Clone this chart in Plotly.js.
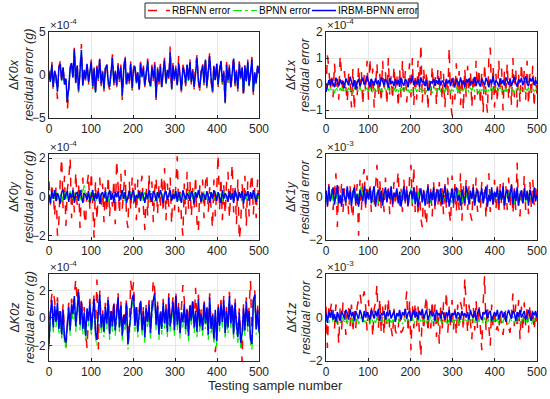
<!DOCTYPE html>
<html><head><meta charset="utf-8">
<script src="https://cdn.plot.ly/plotly-3.0.1.min.js"></script>
<style>html,body{margin:0;padding:0;background:#fff}#chart{width:550px;height:399px}</style>
</head><body><div id="chart"></div>
<script>
// ---------- data (values in displayed axis units: x10^-4 or x10^-3), 150 samples over 0..500 ----------
const seriesNames = ["RBFNN error", "BPNN error", "IRBM-BPNN error"];
const panelLabels = ["K0x", "K1x", "K0y", "K1y", "K0z", "K1z"];
const panelUnits = ["(g)", "", "(g)", "", "(g)", ""];
const panelExponents = ["-4", "-4", "-4", "-3", "-4", "-3"];
const xTicks = [0, 100, 200, 300, 400, 500];

const k0x_rbf = [0.5,-1.0,1.6,-1.7,0.7,-0.4,-2.8,1.0,1.6,-0.9, 1.1,-1.4,-0.6,-4.1,-1.8,0.9,1.7,-0.5,3.2,-1.2, 1.4,-2.1,0.6,3.6,-1.5,0.8,-0.8,1.6,-1.1,0.4, 1.8,-1.6,0.9,-2.3,1.1,-0.7,2.1,-1.3,0.5,-1.9, 1.0,1.5,-1.0,-1.7,0.8,2.4,-1.2,0.6,-1.5,1.4, -0.8,1.2,-2.9,0.8,2.4,-1.4,0.4,-1.0,1.6,-1.8, 0.9,1.3,-1.2,0.5,-2.0,1.7,-0.4,1.1,-1.5,0.7, 1.9,-0.9,-1.6,1.2,-0.7,1.5,-2.9,0.9,-1.1,1.3, -1.7,0.6,2.0,-1.2,0.8,-0.6,3.3,-1.9,1.4,-0.8, 1.1,-1.5,2.2,-0.4,-2.1,1.2,0.5,-1.3,1.5,-0.9, 1.8,-1.1,0.7,-1.7,1.2,2.3,-1.0,-1.8,0.6,1.4, -1.2,2.1,-1.6,0.8,2.6,-0.7,-2.3,1.3,-0.9,1.6, -1.4,0.7,1.9,-1.1,0.5,-3.4,1.5,-0.9,1.2,-1.7, 0.9,2.2,-1.3,0.6,-1.9,1.6,-0.5,1.1,-2.6,1.3, -1.0,1.8,-1.5,0.8,2.1,-2.3,0.5,-1.2,1.4,0.4];
const k0x_bp = [0.2,-0.9,1.1,-1.5,0.4,-0.3,-2.0,0.7,1.2,-0.7, 0.8,-1.2,-0.5,-3.2,-1.6,0.6,1.3,-0.4,2.8,-1.0, 1.0,-1.9,0.3,2.7,-1.3,0.5,-0.6,1.2,-0.9,0.1, 1.4,-1.4,0.6,-2.1,0.8,-0.5,1.7,-1.1,0.2,-1.7, 0.7,1.1,-0.8,-1.5,0.4,1.9,-1.0,0.3,-1.3,1.0, -0.6,0.8,-2.5,0.5,1.8,-1.2,0.1,-0.8,1.2,-1.6, 0.5,0.9,-1.0,0.2,-1.8,1.3,-0.3,0.7,-1.3,0.4, 1.5,-0.7,-1.4,0.8,-0.5,1.1,-2.7,0.6,-0.9,0.9, -1.5,0.3,1.6,-1.0,0.5,-0.4,2.5,-1.7,1.0,-0.6, 0.7,-1.3,1.3,-0.3,-1.9,0.8,0.2,-1.1,1.1,-0.7, 1.4,-0.9,0.4,-1.5,0.8,1.9,-0.8,-1.6,0.3,1.0, -1.0,1.7,-1.4,0.5,2.1,-0.5,-2.0,0.9,-0.7,1.2, -1.2,0.4,1.5,-0.9,0.2,-3.3,1.1,-0.7,0.8,-1.5, 0.6,1.8,-1.1,0.3,-1.7,1.2,-0.4,0.7,-2.2,0.9, -0.8,1.4,-1.3,0.5,1.7,-2.1,0.2,-1.0,1.0,0.1];
const k0x_irbm = [0.3,-0.8,1.2,-1.4,0.5,-0.2,-1.9,0.8,1.3,-0.6, 0.9,-1.1,-0.4,-3.1,-1.5,0.7,1.4,-0.3,3.0,-0.9, 1.1,-1.8,0.4,2.9,-1.2,0.6,-0.5,1.3,-0.8,0.2, 1.5,-1.3,0.7,-2.0,0.9,-0.4,1.8,-1.0,0.3,-1.6, 0.8,1.2,-0.7,-1.4,0.5,2.0,-0.9,0.4,-1.2,1.1, -0.5,0.9,-2.4,0.6,1.9,-1.1,0.2,-0.7,1.3,-1.5, 0.6,1.0,-0.9,0.3,-1.7,1.4,-0.2,0.8,-1.2,0.5, 1.6,-0.6,-1.3,0.9,-0.4,1.2,-2.6,0.7,-0.8,1.0, -1.4,0.4,1.7,-0.9,0.6,-0.3,2.6,-1.6,1.1,-0.5, 0.8,-1.2,1.4,-0.2,-1.8,0.9,0.3,-1.0,1.2,-0.6, 1.5,-0.8,0.5,-1.4,0.9,2.0,-0.7,-1.5,0.4,1.1, -0.9,1.8,-1.3,0.6,2.2,-0.4,-1.9,1.0,-0.6,1.3, -1.1,0.5,1.6,-0.8,0.3,-3.2,1.2,-0.6,0.9,-1.4, 0.7,1.9,-1.0,0.4,-1.6,1.3,-0.3,0.8,-2.1,1.0, -0.7,1.5,-1.2,0.6,1.8,-2.0,0.3,-0.9,1.1,0.2];

const k1x_rbf = [-0.3,1.1,0.6,-0.2,0.4,-0.5,0.8,-0.1,0.3,-0.6, 1.1,0.2,-0.4,0.5,-0.3,-0.7,0.4,0.1,-0.9,0.6, -1.0,0.3,-0.5,0.7,-0.2,0.5,-0.8,0.4,-0.3,0.9, -0.6,1.0,-0.4,0.6,-0.9,0.2,0.8,-0.5,0.4,-0.7, 0.9,-0.3,0.5,-0.8,1.0,-0.4,0.3,-0.6,0.7,-0.2, 0.4,-0.9,0.6,-0.5,0.9,-0.3,0.5,-0.7,0.2,0.8, -0.5,1.0,-0.8,0.4,-0.6,0.9,-0.3,1.55,-0.7,0.6, -0.4,0.5,-1.0,0.3,-0.5,0.7,-0.2,0.4,-0.8,0.6, -0.3,0.5,-0.6,0.4,-0.9,0.3,-0.5,1.4,-0.7,-1.2, 0.4,-0.6,0.8,-0.4,0.5,-0.8,0.3,-1.0,0.6,-0.5, 0.7,-0.3,0.5,-0.9,0.4,-0.6,0.9,-0.4,0.6,-0.8, 0.5,-1.1,0.8,-0.5,-1.1,1.0,1.4,-0.6,0.7,-0.9, 0.4,-0.7,0.9,-0.3,0.6,-1.0,0.5,-0.4,0.8,-0.6, 0.3,-0.8,1.0,-0.5,0.6,-0.9,0.4,-0.7,0.8,-0.3, 0.5,-0.6,0.9,-0.8,0.4,-0.5,0.7,-0.9,0.3,-0.4];
const k1x_bp = [-0.3,-0.15,-0.25,-0.1,-0.28,-0.2,-0.35,-0.12,-0.22,-0.3, -0.15,-0.26,-0.1,-0.32,-0.2,-0.24,-0.14,-0.3,-0.18,-0.35, -0.12,-0.25,-0.2,-0.3,-0.1,-0.27,-0.16,-0.33,-0.2,-0.14, -0.28,-0.1,-0.24,-0.3,-0.15,-0.22,-0.34,-0.12,-0.26,-0.18, -0.3,-0.14,-0.2,-0.27,-0.1,-0.32,-0.18,-0.24,-0.13,-0.29, -0.2,-0.34,-0.12,-0.25,-0.18,-0.3,-0.1,-0.26,-0.21,-0.33, -0.15,-0.28,-0.2,-0.12,-0.3,-0.17,-0.25,-0.1,-0.32,-0.22, -0.14,-0.3,-0.18,-0.26,-0.1,-0.34,-0.2,-0.15,-0.28,-0.22, -0.12,-0.3,-0.24,-0.16,-0.32,-0.1,-0.26,-0.2,-0.35,-0.14, -0.28,-0.18,-0.1,-0.3,-0.22,-0.15,-0.33,-0.2,-0.12,-0.27, -0.2,-0.32,-0.14,-0.25,-0.1,-0.3,-0.18,-0.24,-0.34,-0.15, -0.26,-0.12,-0.3,-0.2,-0.35,-0.16,-0.24,-0.1,-0.28,-0.2, -0.14,-0.3,-0.22,-0.1,-0.32,-0.18,-0.26,-0.15,-0.3,-0.2, -0.12,-0.28,-0.2,-0.34,-0.16,-0.24,-0.1,-0.3,-0.22,-0.15, -0.3,-0.18,-0.25,-0.12,-0.32,-0.2,-0.14,-0.28,-0.22,-0.18];
const k1x_irbm = [-0.3,-0.1,0.15,-0.05,0.2,0.02,-0.12,0.25,0.05,-0.08, 0.18,0.0,0.12,-0.15,0.22,0.06,-0.05,0.28,0.1,-0.1, 0.15,-0.2,0.05,0.2,-0.08,0.12,0.25,-0.02,0.1,0.3, 0.04,-0.12,0.2,0.08,-0.06,0.22,0.0,0.15,-0.1,0.26, 0.06,-0.04,0.18,0.1,-0.14,0.24,0.02,0.12,-0.08,0.2, 0.0,0.16,-0.1,0.25,0.05,-0.06,0.2,0.1,-0.12,0.22, 0.08,0.3,-0.04,0.14,0.02,0.2,-0.1,0.26,0.06,0.12, -0.08,0.18,-0.25,-0.15,0.1,0.04,0.2,-0.06,0.15,0.0, 0.24,-0.05,0.12,0.08,-0.12,0.2,0.02,0.16,-0.08,0.22, 0.05,-0.1,0.18,0.1,-0.04,0.26,0.0,0.14,-0.12,0.2, 0.06,0.22,-0.06,0.12,0.02,0.28,-0.08,0.16,0.04,-0.1, 0.2,0.08,-0.05,0.24,0.1,-0.12,0.18,0.02,0.3,-0.04, 0.14,0.06,-0.1,0.22,0.0,0.16,-0.06,0.26,0.08,-0.02, 0.2,-0.08,0.12,0.28,0.04,-0.1,0.18,0.06,0.24,-0.05, 0.15,0.3,0.02,-0.08,0.22,0.1,0.26,-0.04,0.16,0.0];

const k0y_rbf = [0.8,-0.4,0.5,0.2,-1.0,0.6,-2.0,-1.3,0.9,2.0, -0.6,1.1,-1.5,0.4,0.9,2.0,-1.1,0.5,-0.8,1.3, -0.5,0.7,-1.6,0.3,1.0,-0.9,-1.4,0.6,1.2,-0.7, 1.3,-0.5,-2.1,0.8,-1.2,0.4,1.0,-0.6,0.7,-1.3, 0.5,-0.8,1.1,-1.0,0.3,-0.5,0.9,-1.4,1.9,0.6, -0.9,1.2,-0.6,0.4,1.4,-1.1,-1.6,0.8,-0.7,1.0, -0.4,0.7,-1.2,0.9,-0.8,0.5,1.1,-0.6,-1.7,0.6, -1.0,1.2,-0.5,0.8,-1.3,0.4,1.0,-0.9,0.6,-0.6, 1.1,-0.8,1.5,-1.2,0.7,-0.5,1.0,-1.4,0.6,-0.7, 0.9,2.1,-0.8,0.5,-1.2,-2.0,0.7,-0.9,1.3,-0.6, 0.8,-1.0,0.5,-0.7,1.1,-1.3,-1.8,0.6,-0.5,0.9, -1.1,0.7,1.2,-0.8,0.5,-0.6,-1.6,0.9,-1.0,0.4, 2.2,-0.7,1.0,-1.2,0.6,-0.9,0.8,1.3,-1.1,0.5, 1.7,-0.8,0.6,-1.4,0.9,-2.2,-1.5,0.7,-0.6,1.1, -1.5,0.8,-1.0,0.6,1.2,-0.9,0.5,-1.1,0.9,-0.6];
const k0y_bp = [0.15,-0.2,0.25,0.05,-0.1,0.3,-0.15,0.1,0.2,-0.25, 0.05,0.25,-0.1,0.2,-0.2,0.3,0.0,-0.15,0.15,0.25, -0.1,0.2,0.05,-0.2,0.3,0.6,-0.05,0.15,-0.25,0.1, 0.25,-0.1,0.2,0.0,-0.2,0.3,0.1,-0.15,0.2,0.05, -0.1,0.25,-0.2,0.15,0.3,-0.05,0.1,-0.25,0.2,0.0, 0.3,-0.15,0.1,0.25,-0.2,0.05,0.2,-0.1,0.3,-0.05, 0.15,-0.25,0.2,0.05,-0.1,0.3,0.0,-0.2,0.25,0.1, -0.15,0.2,0.3,-0.05,0.1,-0.25,0.15,0.25,-0.1,0.05, 0.2,-0.2,0.3,0.1,-0.15,0.25,0.0,-0.1,0.2,0.3, -0.05,0.15,-0.25,0.2,0.05,0.3,-0.15,0.1,-0.2,0.25, 0.0,0.2,-0.1,0.4,-0.2,0.15,0.25,-0.05,0.1,-0.25, 0.3,0.05,-0.15,0.2,-0.1,0.25,0.1,-0.2,0.3,0.0, -0.1,0.2,0.15,-0.25,0.3,0.05,-0.15,0.2,-0.05,0.25, 0.1,-0.2,0.3,0.0,-0.1,0.2,0.15,-0.25,0.25,0.05, -0.15,0.3,0.1,-0.05,0.2,-0.2,0.25,0.0,0.15,-0.1];
const k0y_irbm = [0.1,-0.3,0.3,-0.1,0.35,-0.2,0.2,0.0,-0.35,0.25, 0.4,-0.15,0.1,0.3,-0.25,0.2,-0.05,0.35,-0.3,0.15, 0.25,-0.2,0.35,0.0,-0.3,0.2,0.1,-0.15,0.3,-0.25, 0.05,0.35,-0.2,0.2,-0.1,0.3,-0.35,0.15,0.25,-0.05, 0.3,-0.25,0.1,0.35,-0.15,0.2,-0.3,0.25,0.0,0.3, -0.2,0.15,0.35,-0.1,0.25,-0.3,0.05,0.3,-0.15,0.2, 0.35,-0.25,0.1,-0.05,0.3,-0.2,0.25,0.05,-0.3,0.2, -0.1,0.35,0.0,-0.25,0.3,0.15,-0.2,0.25,-0.05,0.35, 0.1,-0.3,0.2,0.3,-0.15,0.05,0.35,-0.2,0.15,-0.1, 0.3,-0.25,0.25,0.0,-0.3,0.35,0.1,-0.15,0.2,0.05, -0.2,0.3,0.15,-0.3,0.25,-0.05,0.35,0.0,-0.25,0.2, 0.1,-0.15,0.3,0.05,-0.3,0.25,-0.1,0.35,0.15,-0.2, 0.25,0.0,-0.3,0.35,-0.1,0.2,0.05,-0.25,0.3,-0.15, 0.2,-0.3,0.35,0.1,-0.2,0.25,-0.05,0.3,-0.35,0.15, 0.05,0.3,-0.2,0.25,-0.1,0.35,0.0,-0.25,0.2,0.1];

const k1y_rbf = [0.3,-0.5,0.6,-0.2,0.4,-0.6,0.2,1.1,-1.4,0.5, -0.3,0.6,-0.7,0.4,-0.4,0.3,-0.8,0.5,-0.5,-1.0, 0.7,-0.4,0.6,-1.8,0.8,-0.6,0.9,1.3,-0.5,1.0, -0.3,0.6,-0.7,0.4,-0.5,0.7,1.5,-0.4,0.8,-0.6, 0.5,-0.7,0.9,-0.3,0.6,-0.8,0.4,-0.5,0.7,-0.4, 0.6,1.2,-0.6,0.4,-0.7,0.8,-0.3,0.5,-0.6,0.9, 1.5,-0.5,1.4,-0.7,0.6,-0.9,0.4,-1.0,-1.4,0.5, -0.8,-1.3,0.6,-0.5,0.4,-0.9,0.7,-0.6,0.5,-0.4, 0.7,-0.6,0.4,-0.8,0.6,-0.5,0.9,-0.7,-1.2,1.0, -0.5,0.6,-0.7,0.4,-0.6,1.1,-1.1,0.5,-0.4,0.8, -0.6,0.5,-0.8,-1.1,0.6,-0.5,0.9,-0.7,0.4,-0.6, 0.7,-0.4,0.5,-1.0,0.6,1.1,-0.7,0.4,-0.5,0.8, -0.6,0.5,-0.8,0.6,-0.4,0.7,-0.7,0.5,-0.6,0.9, -0.5,0.6,-0.8,0.4,-0.6,1.6,-0.7,-0.9,0.5,-0.4, 1.0,-0.6,0.5,-0.8,0.7,-0.5,0.8,-0.4,0.6,-0.3];
const k1y_bp = [0.1,-0.3,0.2,-0.1,0.3,-0.2,0.05,0.25,-0.35,0.15, -0.05,0.3,-0.2,0.1,-0.3,0.2,0.0,-0.25,0.15,0.3, -0.1,0.2,-0.3,0.1,0.25,0.55,-0.15,0.3,-0.2,0.05, 0.25,-0.1,0.3,-0.25,0.15,-0.05,0.2,-0.3,0.1,0.3, -0.2,0.05,0.25,-0.15,0.3,-0.1,0.2,-0.3,0.15,0.0, 0.3,-0.2,0.1,0.25,-0.25,0.15,-0.05,0.3,-0.15,0.2, 0.4,-0.3,0.25,0.05,-0.2,0.3,-0.1,0.15,-0.25,0.2, 0.0,0.3,-0.2,0.1,-0.3,0.25,0.05,-0.15,0.2,-0.1, 0.35,-0.2,0.15,0.3,-0.1,0.05,-0.25,0.2,0.1,-0.3, 0.25,-0.05,0.2,-0.2,0.3,0.1,-0.3,0.15,0.0,0.25, -0.15,0.3,-0.25,0.1,0.2,-0.1,0.3,-0.2,0.05,0.25, -0.3,0.15,0.25,-0.05,0.2,-0.25,0.1,0.3,-0.15,0.05, 0.2,-0.2,0.3,-0.1,0.15,0.25,-0.3,0.1,-0.05,0.2, 0.35,-0.15,0.2,-0.3,0.1,0.25,-0.1,0.3,-0.2,0.05, 0.15,-0.25,0.3,0.0,-0.1,0.25,-0.2,0.1,0.2,-0.05];
const k1y_irbm = [0.3,-0.4,0.5,-0.2,0.1,0.45,-0.35,0.2,0.55,-0.3, 0.1,-0.45,0.4,0.0,-0.25,0.5,-0.1,0.3,-0.4,0.2, 0.45,-0.3,0.15,-0.45,0.35,0.05,-0.2,0.5,-0.35,0.25, -0.1,0.4,-0.3,0.2,0.5,-0.45,0.1,0.35,-0.2,0.3, -0.4,0.15,0.45,-0.25,0.3,-0.1,0.5,-0.35,0.2,0.0, 0.4,-0.3,0.25,-0.45,0.1,0.5,-0.2,0.35,-0.4,0.15, 0.3,-0.1,0.45,-0.35,0.2,-0.45,0.05,0.4,-0.25,0.3, -0.4,0.1,0.5,-0.3,0.25,-0.15,0.45,-0.4,0.2,0.35, -0.2,0.4,-0.35,0.15,0.5,-0.25,0.3,-0.45,0.1,0.4, -0.3,0.25,0.45,-0.2,0.1,-0.4,0.35,0.0,-0.3,0.5, 0.2,-0.35,0.3,-0.1,0.45,-0.4,0.15,0.35,-0.25,0.05, 0.4,-0.3,0.2,0.5,-0.45,0.1,-0.2,0.45,-0.35,0.25, 0.0,0.4,-0.3,0.3,-0.15,0.5,-0.4,0.2,0.35,-0.25, 0.15,0.55,-0.35,0.3,-0.2,0.45,-0.4,0.1,0.3,-0.3, 0.4,-0.15,0.25,-0.4,0.35,0.05,-0.3,0.45,-0.2,0.1];

const k0z_rbf = [-1.5,0.8,1.7,2.0,1.2,0.1,1.5,-0.5,0.8,-0.9, 1.0,-1.2,-2.2,-0.1,1.1,-0.6,1.4,0.6,2.0,2.8, 1.2,2.2,-0.2,1.5,-0.5,0.8,-1.0,-2.2,0.1,1.4, -0.6,0.8,1.7,-0.8,2.8,-2.3,2.0,-0.4,0.6,-0.7, 1.1,-0.1,1.6,-0.9,0.8,-0.3,1.3,-0.6,0.7,1.8, -0.4,1.2,-1.0,0.5,-0.2,1.4,-1.5,-0.5,2.7,1.7, 2.6,-0.3,1.1,-0.7,0.6,1.5,-0.6,0.8,-1.1,1.0, 0.0,1.3,-0.8,0.9,2.8,2.1,-0.2,1.2,-0.9,0.7, -0.5,1.4,-0.1,1.0,-0.7,1.8,-0.3,0.6,1.5,-0.6, 1.9,-0.2,1.1,-0.8,0.7,2.4,1.3,-0.5,0.9,-1.0, 1.2,0.1,1.5,-0.4,2.2,-0.7,1.7,-0.3,0.6,-0.6, 1.4,-0.1,1.0,-0.9,1.8,-0.5,0.5,-1.2,-2.5,-1.4, 1.1,-0.3,1.3,0.0,1.6,-0.8,0.8,-0.4,1.9,-0.1, 1.2,-0.9,1.4,-0.2,-1.1,0.7,-1.5,-3.2,1.0,-0.6, 1.5,-0.3,0.8,2.7,-1.6,1.6,2.0,-0.5,0.9,-0.7];
const k0z_bp = [-2.3,0.0,0.9,-1.1,0.5,-0.7,0.7,-1.2,0.1,-1.6, 0.2,-1.9,-2.2,-0.8,0.4,-1.3,0.6,-0.1,1.2,-1.0, 0.5,1.5,-0.9,0.8,-1.2,0.0,-1.7,0.3,-0.6,0.7, -1.3,0.1,1.0,-1.5,-2.0,0.2,1.3,-1.1,-0.1,-1.4, 0.4,-0.8,0.9,-1.6,0.1,-1.0,0.6,-1.3,0.0,1.1, -1.1,0.5,-1.7,-0.2,-0.9,0.7,-2.3,-1.2,0.2,1.0, 1.3,-1.0,0.4,-1.4,-0.1,0.8,-1.3,0.1,-1.8,0.3, -0.7,0.6,-1.5,0.2,0.9,1.4,-0.9,0.5,-1.6,0.0, -1.2,0.7,-0.8,0.3,-1.4,1.1,-1.0,-0.1,0.8,-1.3, 1.2,-0.9,0.4,-1.5,0.0,-0.7,0.6,-1.2,0.2,-1.7, 0.5,-0.6,0.8,-1.1,0.1,-1.4,1.0,-1.0,-0.1,-1.3, 0.7,-0.8,0.3,-1.6,1.1,-1.2,-0.2,-1.9,0.2,-2.1, 0.4,-1.0,0.6,-0.7,0.9,-1.5,0.1,-1.1,1.2,-0.8, 0.5,-1.6,0.7,-0.9,-1.8,0.0,-2.2,-1.5,0.3,-1.3, 0.8,-1.0,0.1,-2.0,-2.3,0.9,1.3,-1.2,0.2,-1.4];
const k0z_irbm = [-1.9,0.4,1.3,-0.7,0.9,-0.3,1.1,-0.8,0.5,-1.2, 0.6,-1.5,-1.8,-0.4,0.8,-0.9,1.0,0.3,1.6,-0.6, 0.9,1.9,-0.5,1.2,-0.8,0.4,-1.3,0.7,-0.2,1.1, -0.9,0.5,1.4,-1.1,-1.6,0.6,1.7,-0.7,0.3,-1.0, 0.8,-0.4,1.3,-1.2,0.5,-0.6,1.0,-0.9,0.4,1.5, -0.7,0.9,-1.3,0.2,-0.5,1.1,-1.9,-0.8,0.6,1.4, 1.7,-0.6,0.8,-1.0,0.3,1.2,-0.9,0.5,-1.4,0.7, -0.3,1.0,-1.1,0.6,1.3,1.8,-0.5,0.9,-1.2,0.4, -0.8,1.1,-0.4,0.7,-1.0,1.5,-0.6,0.3,1.2,-0.9, 1.6,-0.5,0.8,-1.1,0.4,-0.3,1.0,-0.8,0.6,-1.3, 0.9,-0.2,1.2,-0.7,0.5,-1.0,1.4,-0.6,0.3,-0.9, 1.1,-0.4,0.7,-1.2,1.5,-0.8,0.2,-1.5,0.6,-1.7, 0.8,-0.6,1.0,-0.3,1.3,-1.1,0.5,-0.7,1.6,-0.4, 0.9,-1.2,1.1,-0.5,-1.4,0.4,-1.8,-1.1,0.7,-0.9, 1.2,-0.6,0.5,-1.6,-1.9,1.3,1.7,-0.8,0.6,-1.0];

const k1z_rbf = [0.5,-1.4,0.6,0.3,0.7,0.4,-0.5,0.6,0.2,-1.2, 0.5,-0.6,0.7,0.3,-0.8,0.5,0.4,-0.4,0.6,-0.7, 0.3,-0.5,0.5,0.8,1.1,0.6,0.9,1.2,0.5,-0.6, 0.8,-0.4,0.6,-0.9,0.4,0.7,1.5,-0.5,0.9,-0.7, 0.5,-0.8,0.6,-0.3,0.9,-0.7,-0.5,-0.9,0.4,-0.6, -0.8,-0.5,0.3,-0.7,-0.6,-0.4,0.5,1.2,-0.7,0.8, -1.5,0.6,-0.5,0.7,-0.4,0.5,-0.8,-1.8,0.4,-0.6, 0.5,1.0,-0.7,0.4,-0.5,0.8,-0.4,0.6,-0.9,0.3, -1.2,0.5,-0.6,0.7,-0.4,1.2,-0.7,0.5,-0.5,0.8, -0.6,0.4,-0.8,0.6,-0.5,0.7,0.4,-0.6,1.8,0.5, -0.7,0.6,-0.4,-1.0,0.5,-0.6,0.8,-0.5,0.6,-0.8, -1.5,0.7,1.9,-0.6,0.5,-0.4,-1.3,0.6,-0.5,0.4, -0.6,-0.4,-0.7,0.3,-0.5,-0.8,-0.3,0.4,-0.6,-0.5, -0.7,0.3,1.1,-0.4,0.6,-0.5,0.8,-1.0,0.5,-0.6, 0.7,-0.4,0.5,-0.7,0.6,-0.3,0.4,-0.6,0.3,-0.5];
const k1z_bp = [-0.2,0.05,-0.25,-0.1,0.1,-0.2,-0.05,-0.3,0.0,-0.15, -0.25,0.05,-0.1,-0.2,0.1,-0.3,-0.05,-0.15,0.05,-0.25, -0.1,-0.2,0.0,-0.3,-0.1,0.05,-0.2,-0.15,-0.25,0.0, -0.1,-0.3,0.05,-0.2,-0.1,-0.25,0.0,-0.15,-0.3,-0.05, -0.2,0.05,-0.25,-0.1,-0.15,0.0,-0.3,-0.1,-0.2,0.05, -0.15,-0.25,0.0,-0.1,-0.3,-0.05,-0.2,0.05,-0.15,-0.25, -0.1,0.0,-0.3,-0.15,-0.05,-0.2,0.05,-0.25,-0.1,-0.2, 0.0,-0.3,-0.1,-0.15,0.05,-0.25,-0.05,-0.2,-0.1,-0.3, 0.0,-0.15,-0.25,0.05,-0.1,-0.2,-0.3,-0.05,-0.15,0.0, -0.25,-0.1,-0.2,0.05,-0.3,-0.15,-0.05,-0.2,-0.1,-0.15, -0.2,0.05,-0.25,-0.1,0.0,-0.3,-0.15,-0.05,-0.2,0.05, -0.1,-0.25,0.0,-0.2,-0.3,-0.05,-0.15,0.05,-0.25,-0.1, -0.2,-0.05,-0.3,0.0,-0.15,-0.25,0.05,-0.1,-0.2,-0.3, -0.05,-0.15,0.05,-0.25,-0.1,-0.2,0.0,-0.3,-0.15,-0.05, -0.2,0.0,-0.25,-0.1,0.05,-0.3,-0.15,-0.05,-0.2,-0.1];
const k1z_irbm = [0.2,-0.25,0.3,0.0,0.35,-0.1,0.15,-0.2,0.25,0.05, -0.15,0.3,0.1,-0.05,0.35,0.2,-0.1,0.4,0.05,0.25, -0.15,0.3,0.1,-0.05,0.35,0.15,-0.2,0.3,0.0,0.25, 0.1,-0.1,0.35,0.2,-0.05,0.3,0.05,0.4,-0.15,0.2, 0.1,0.3,-0.1,0.25,0.05,0.35,-0.05,0.15,0.3,-0.2, 0.2,0.05,0.35,-0.1,0.25,0.1,0.4,-0.05,0.2,0.3, -0.15,0.15,0.35,0.0,0.25,-0.1,0.3,0.1,0.4,-0.05, 0.2,0.35,-0.1,0.15,0.3,0.05,0.25,-0.15,0.35,0.1, 0.2,-0.05,0.3,0.15,-0.1,0.25,0.05,0.35,-0.2,0.2, 0.1,0.3,-0.05,0.25,0.15,-0.1,0.3,0.05,0.2,0.0, 0.25,-0.1,0.35,0.1,0.0,0.3,-0.15,0.2,0.4,0.05, -0.1,0.25,0.15,0.35,-0.05,0.2,0.3,-0.15,0.1,0.25, 0.05,0.35,-0.1,0.2,0.3,0.0,0.25,-0.2,0.15,0.35, 0.1,-0.05,0.3,0.2,-0.15,0.25,0.05,0.35,0.0,0.2, 0.3,-0.1,0.2,0.35,0.05,-0.15,0.25,0.1,0.3,0.0];

// ---------- layout geometry (pixels) ----------
const W = 550, H = 399;
const colPx = [[49, 259], [326, 537]];
const rowPx = [[32, 118], [154, 240], [274, 361]];
const titlePx = [[14, 29], [291, 305]];
const panelData = [
  [k0x_rbf, k0x_bp, k0x_irbm], [k1x_rbf, k1x_bp, k1x_irbm],
  [k0y_rbf, k0y_bp, k0y_irbm], [k1y_rbf, k1y_bp, k1y_irbm],
  [k0z_rbf, k0z_bp, k0z_irbm], [k1z_rbf, k1z_bp, k1z_irbm]
];
const yRanges = [[-5, 5], [-1.3, 2], [-2.22, 2.22], [-2, 2], [-3.14, 3.2], [-2, 2]];
const yTicks = [[-5, 0, 5], [-1, 0, 1, 2], [-2, 0, 2], [-2, 0, 2], [-2, 0, 2], [-2, 0, 2]];

const styles = [
  {color: '#ff0000', width: 1.5, dash: 'dash'},
  {color: '#00ee00', width: 1.2, dash: 'dashdot'},
  {color: '#0000ff', width: 1.5, dash: 'solid'}
];

const px = v => v / W, py = v => 1 - v / H;
const traces = [];
const layout = {
  width: W, height: H,
  margin: {l: 0, r: 0, t: 0, b: 0},
  paper_bgcolor: '#fff', plot_bgcolor: '#fff',
  font: {family: 'Liberation Sans, Arial, sans-serif', size: 12, color: '#262626'},
  showlegend: false,
  annotations: [], shapes: []
};

panelData.forEach((set, p) => {
  const r = Math.floor(p / 2), c = p % 2;
  const ax = p === 0 ? '' : String(p + 1);
  set.forEach((ys, s) => {
    traces.push({
      type: 'scatter', mode: 'lines',
      x: ys.map((_, i) => i * 500 / (ys.length - 1)), y: ys,
      xaxis: 'x' + ax, yaxis: 'y' + ax,
      name: seriesNames[s], line: styles[s], hoverinfo: 'skip'
    });
  });
  const xd = [px(colPx[c][0]), px(colPx[c][1])];
  const yd = [py(rowPx[r][1]), py(rowPx[r][0])];
  const common = {
    showline: true, mirror: true, linecolor: '#262626', linewidth: 1,
    ticks: 'inside', ticklen: 3, tickcolor: '#262626',
    showgrid: true, gridcolor: '#e6e6e6', gridwidth: 1, zeroline: false,
    tickfont: {size: 12, color: '#262626'}
  };
  layout['xaxis' + ax] = Object.assign({}, common, {
    domain: xd, range: [0, 500], tickvals: xTicks, anchor: 'y' + ax
  });
  layout['yaxis' + ax] = Object.assign({}, common, {
    domain: yd, range: yRanges[p], tickvals: yTicks[p], anchor: 'x' + ax
  });
  const ymid = (yd[0] + yd[1]) / 2;
  layout.annotations.push({
    xref: 'paper', yref: 'paper', x: px(titlePx[c][0]), y: ymid,
    text: 'Δ<i>' + panelLabels[p] + '</i>', textangle: -90, showarrow: false,
    xanchor: 'center', yanchor: 'middle', font: {size: 12.5, color: '#262626'}
  });
  layout.annotations.push({
    xref: 'paper', yref: 'paper', x: px(titlePx[c][1]), y: ymid,
    text: '<i>residual error' + (panelUnits[p] ? ' ' + panelUnits[p] : '') + '</i>',
    textangle: -90, showarrow: false,
    xanchor: 'center', yanchor: 'middle', font: {size: 12.5, color: '#262626'}
  });
  layout.annotations.push({
    xref: 'paper', yref: 'paper', x: px(colPx[c][0]), y: yd[1],
    text: '×10<sup>' + panelExponents[p] + '</sup>', showarrow: false, borderpad: 0,
    xanchor: 'left', yanchor: 'bottom', font: {size: 11.5, color: '#262626'}
  });
});
layout.annotations.push({
  xref: 'paper', yref: 'paper', x: 0.5, y: py(385),
  text: 'Testing sample number', showarrow: false,
  xanchor: 'center', yanchor: 'middle', font: {size: 13, color: '#262626'}
});

// ---------- legend (box, line samples, labels) ----------
const legBox = [145, 3, 418, 18];
layout.shapes.push({type: 'rect', xref: 'paper', yref: 'paper',
  x0: px(legBox[0]), x1: px(legBox[2]), y0: py(legBox[3]), y1: py(legBox[1]),
  line: {color: '#262626', width: 1}, fillcolor: '#fff'});
const legItems = [[148, 170, 171], [233, 257, 258], [312, 336, 337]];
legItems.forEach((it, s) => {
  layout.shapes.push({type: 'line', xref: 'paper', yref: 'paper',
    x0: px(it[0]), x1: px(it[1]), y0: py(10.5), y1: py(10.5),
    line: {color: styles[s].color, width: styles[s].width, dash: styles[s].dash}});
  layout.annotations.push({xref: 'paper', yref: 'paper', x: px(it[2]), y: py(10.5),
    text: seriesNames[s], showarrow: false, xanchor: 'left', yanchor: 'middle',
    borderpad: 0, font: {size: 10, color: '#000'}});
});

Plotly.newPlot('chart', traces, layout, {staticPlot: true, displayModeBar: false});
</script></body></html>
